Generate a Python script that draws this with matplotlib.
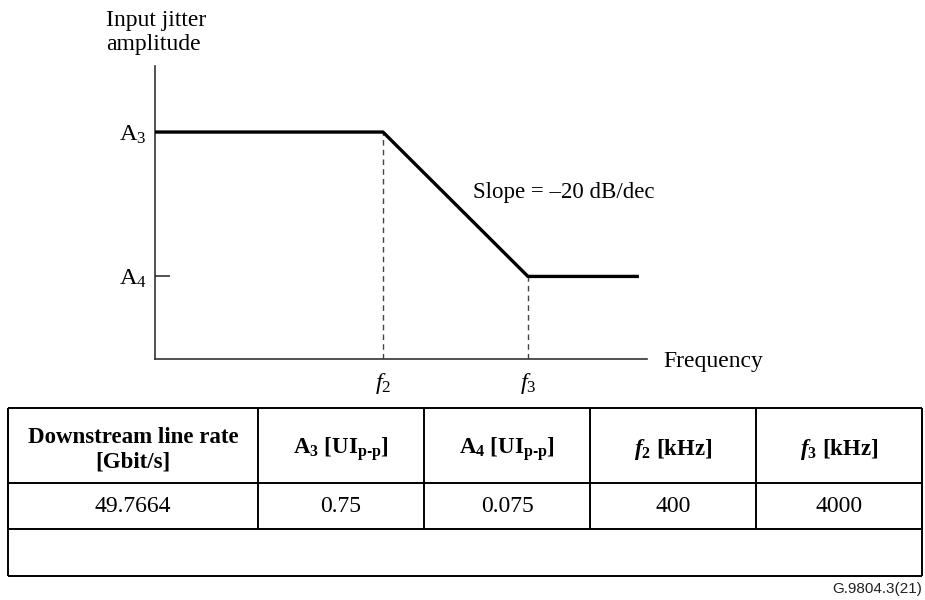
import numpy as np
import matplotlib
matplotlib.use("Agg")
import matplotlib.pyplot as plt

plt.rcParams['font.family'] = ['Liberation Serif', 'DejaVu Serif']
plt.rcParams['mathtext.fontset'] = 'custom'
plt.rcParams['mathtext.rm'] = 'Liberation Serif'
plt.rcParams['mathtext.it'] = 'Liberation Serif:italic'
plt.rcParams['mathtext.bf'] = 'Liberation Serif:bold'
# bold italic f in table header, via the sf slot
plt.rcParams['mathtext.sf'] = 'Liberation Serif:bold:italic'

# mask values (from the table)
line_rate = "49.7664"
A3 = 0.75      # UIp-p
A4 = 0.075     # UIp-p
f2 = 400       # kHz
f3 = 4000      # kHz

# curve: flat at A3 up to f2, -20 dB/dec down to f3, flat at A4
curve_f = [10.7, f2, f3, 23300]
curve_a = [A3, A3, A4, A4]

x_range = [10.7, 26500]
y_range = [0.0201, 2.15]

headers = ["Downstream line rate\n[Gbit/s]",
           r"$\mathbf{A}_\mathbf{3}$ $\mathbf{[UI}_\mathbf{p‑p}\mathbf{]}$",
           r"$\mathbf{A}_\mathbf{4}$ $\mathbf{[UI}_\mathbf{p‑p}\mathbf{]}$",
           r"$\mathsf{f}_\mathbf{2}$ $\mathbf{[kHz]}$",
           r"$\mathsf{f}_\mathbf{3}$ $\mathbf{[kHz]}$"]
values = [line_rate, str(A3), str(A4), str(f2), str(f3)]

W, H = 925, 600
fig = plt.figure(figsize=(W / 100, H / 100), dpi=100)

ax = fig.add_axes([155 / W, 1 - 359 / H, 492 / W, 293 / H])
ax.set_xscale('log')
ax.set_yscale('log')
ax.set_xlim(x_range)
ax.set_ylim(y_range)
ax.plot(curve_f, curve_a, color='black', lw=2.4, solid_capstyle='butt', zorder=3)
ax.vlines([f2, f3], y_range[0], [A3, A4], colors='#444444', lw=1.0,
          linestyles=(0, (4, 3)), zorder=2)
for s in ['top', 'right']:
    ax.spines[s].set_visible(False)
for s in ['left', 'bottom']:
    ax.spines[s].set_color('#333333')
    ax.spines[s].set_linewidth(1.2)
ax.minorticks_off()
ax.set_xticks([f2, f3], [r'$f_2$', r'$f_3$'])
ax.set_yticks([A4, A3], [r'A$_4$', r'A$_3$'])
ax.tick_params(axis='x', length=0, pad=9, labelsize=17.5)
ax.tick_params(axis='y', direction='in', length=11, width=1.2, color='#333333',
               pad=6, labelsize=17.5)

fig.text(106 / W, 1 - 10 / H, "Input jitter\namplitude", ha='left', va='top',
         fontsize=17, linespacing=1.2)
fig.text(663 / W, 1 - 361 / H, "Frequency", ha='left', va='center', fontsize=17)
fig.text(473 / W, 1 - 192 / H, "Slope = –20 dB/dec", ha='left', va='center',
         fontsize=16.5)

# table
tab = fig.add_axes([0, 0, 1, 1])
tab.set_xlim(0, W)
tab.set_ylim(H, 0)
tab.axis('off')
col_w = [250, 166, 166, 166, 166]
cols = np.concatenate([[8], 8 + np.cumsum(col_w)])
rows = [408, 483, 529, 576]
tab.hlines(rows, cols[0], cols[-1], colors='black', lw=1.4)
tab.vlines(cols, rows[0], rows[2], colors='black', lw=1.4)
tab.vlines([cols[0], cols[-1]], rows[0], rows[3], colors='black', lw=1.4)
for i in range(5):
    cx = (cols[i] + cols[i + 1]) / 2
    tab.text(cx, (rows[0] + rows[1]) / 2 + 4, headers[i], ha='center', va='center',
             fontsize=16.5, fontweight='bold', linespacing=1.2)
    tab.text(cx, (rows[1] + rows[2]) / 2 + 1, values[i], ha='center', va='center',
             fontsize=17)

fig.text(922 / W, 1 - 589 / H, "G.9804.3(21)", ha='right', va='center',
         fontsize=11, family='Liberation Sans', color='#222222')

fig.savefig("out.png", dpi=100)
